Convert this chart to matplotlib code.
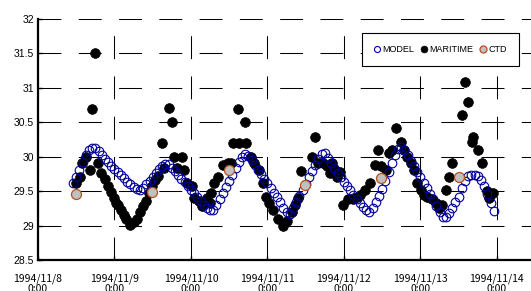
import numpy as np
import matplotlib
matplotlib.use("Agg")
import matplotlib.pyplot as plt

plt.rcParams['lines.scale_dashes'] = False

# ---------------- data (hours since 1994/11/8 0:00) ----------------
model_start_hour = 11
model_values = [
    29.62, 29.70, 29.80, 29.92, 30.03, 30.10, 30.13, 30.12, 30.08, 30.02,  # h11-20
    29.97, 29.92, 29.87, 29.82, 29.78, 29.74, 29.69, 29.64, 29.60, 29.56,  # h21-30
    29.53, 29.52, 29.55, 29.60, 29.65, 29.70, 29.76, 29.82, 29.87, 29.90,  # h31-40
    29.89, 29.84, 29.79, 29.74, 29.68, 29.63, 29.58, 29.52, 29.47, 29.41,  # h41-50
    29.35, 29.30, 29.25, 29.22, 29.23, 29.30, 29.38, 29.47, 29.56, 29.65,  # h51-60
    29.74, 29.83, 29.92, 30.00, 30.04, 30.01, 29.95, 29.88, 29.81, 29.75,  # h61-70
    29.68, 29.62, 29.55, 29.48, 29.41, 29.34, 29.26, 29.19, 29.17, 29.25,  # h71-80
    29.34, 29.43, 29.52, 29.61, 29.70, 29.79, 29.88, 29.97, 30.04, 30.05,  # h81-90
    29.98, 29.91, 29.84, 29.77, 29.70, 29.63, 29.57, 29.51, 29.45, 29.39,  # h91-100
    29.33, 29.27, 29.22, 29.20, 29.26, 29.34, 29.43, 29.53, 29.65, 29.78,  # h101-110
    29.91, 30.03, 30.11, 30.14, 30.10, 30.02, 29.94, 29.86, 29.78, 29.70,  # h111-120
    29.62, 29.54, 29.46, 29.38, 29.29, 29.20, 29.13, 29.12, 29.18, 29.26,  # h121-130
    29.34, 29.42, 29.55, 29.65, 29.72, 29.74, 29.74, 29.72, 29.66, 29.58,  # h131-140
    29.46, 29.33, 29.21,                                                   # h141-143
]

maritime_hours = [
    11.9, 13.2, 13.8, 15.1, 16.3, 16.9, 17.9, 18.8, 19.8, 21.0, 22.0, 22.9, 23.8,
    24.5, 25.1, 26.0, 27.0, 27.6, 28.9, 30.1, 31.1, 32.0, 33.0, 33.9, 34.8, 35.8,
    36.7, 37.6, 38.9, 39.5, 41.1, 42.0, 42.7, 43.6, 45.2, 45.8, 46.7, 48.3, 48.9,
    50.5, 51.5, 53.0, 54.0, 54.3, 55.2, 56.5, 58.0, 59.6, 60.5, 61.2, 62.7, 63.0,
    65.0, 65.3, 66.8, 67.8, 69.3, 70.6, 71.5, 72.5, 73.7, 75.3, 76.9, 78.1, 79.7,
    80.6, 81.6, 82.5, 86.0, 87.0, 87.8, 89.4, 90.7, 91.6, 92.2, 93.2, 93.8, 94.7,
    95.7, 97.3, 98.8, 100.1, 101.0, 102.6, 104.2, 105.7, 106.7, 107.6, 109.2,
    110.1, 111.1, 112.3, 113.9, 114.8, 115.8, 117.0, 118.0, 118.9, 120.2, 121.1,
    122.0, 123.6, 124.9, 125.8, 126.7, 128.0, 128.9, 129.9, 133.0, 134.0, 134.9,
    136.2, 136.5, 138.0, 139.3, 140.9, 141.6, 142.7,
]
maritime_values = [
    29.62, 29.71, 29.91, 30.00, 29.81, 30.70, 31.51, 29.91, 29.77, 29.67, 29.57, 29.49, 29.40,
    29.33, 29.30, 29.23, 29.16, 29.09, 29.01, 29.05, 29.09, 29.20, 29.28, 29.36, 29.48, 29.58,
    29.66, 29.72, 30.20, 29.84, 30.71, 30.51, 30.00, 29.84, 30.00, 29.81, 29.62, 29.57, 29.40,
    29.35, 29.28, 29.40, 29.33, 29.48, 29.62, 29.71, 29.88, 29.91, 29.91, 30.20, 30.70, 30.20,
    30.51, 30.20, 30.00, 29.91, 29.81, 29.62, 29.42, 29.33, 29.23, 29.09, 28.99, 29.06, 29.19,
    29.30, 29.40, 29.79, 30.00, 30.29, 29.91, 29.91, 29.86, 29.77, 29.91, 29.81, 29.71, 29.78,
    29.30, 29.38, 29.38, 29.42, 29.45, 29.52, 29.62, 29.88, 30.10, 29.86, 29.81,
    30.06, 30.10, 30.42, 30.22, 30.10, 30.00, 29.91, 29.81, 29.62, 29.52, 29.45,
    29.42, 29.38, 29.33, 29.26, 29.30, 29.52, 29.70, 29.91, 30.61, 31.09, 30.80,
    30.22, 30.29, 30.10, 29.91, 29.50, 29.40, 29.48,
]

ctd_hours = [11.9, 35.8, 59.9, 83.8, 107.6, 132.0]
ctd_values = [29.46, 29.49, 29.81, 29.59, 29.69, 29.70]

x_tick_hours = [0, 24, 48, 72, 96, 120, 144]
x_tick_labels = ["1994/11/8\n0:00", "1994/11/9\n0:00", "1994/11/10\n0:00",
                 "1994/11/11\n0:00", "1994/11/12\n0:00", "1994/11/13\n0:00",
                 "1994/11/14\n0:00"]
y_ticks = [28.5, 29, 29.5, 30, 30.5, 31, 31.5, 32]

# ---------------- figure ----------------
W, H = 531, 291
fig = plt.figure(figsize=(W / 100, H / 100), dpi=100)
ax = fig.add_axes([38 / W, 1 - 260 / H, 493 / W, 241 / H])

model_hours = model_start_hour + np.arange(len(model_values))

h_mar, = ax.plot(maritime_hours, maritime_values, linestyle='none', marker='o',
                 markersize=7.0, markerfacecolor='black', markeredgecolor='black',
                 markeredgewidth=0.5, label='MARITIME', zorder=3)
h_mod, = ax.plot(model_hours, model_values, linestyle='none', marker='o',
                 markersize=6.2, markerfacecolor='none', markeredgecolor='#000099',
                 markeredgewidth=0.8, label='MODEL', zorder=4)
h_ctd, = ax.plot(ctd_hours, ctd_values, linestyle='none', marker='o',
                 markersize=7.2, markerfacecolor='#c0c0c0', markeredgecolor='#b4501e',
                 markeredgewidth=0.9, label='CTD', zorder=5)

ax.set_xlim(0, 154.7)
ax.set_ylim(28.5, 32)
ax.set_yticks(y_ticks)
ax.set_yticklabels([f"{v:g}" for v in y_ticks], fontsize=7.5, family='Liberation Sans')
ax.set_xticks(x_tick_hours)
ax.set_xticklabels(x_tick_labels, fontsize=7.5, family=['Noto Sans CJK JP', 'DejaVu Sans'],
                   linespacing=1.1)

ax.grid(True, color='black', linewidth=0.75, linestyle=(0, (16.5, 12.5)))
ax.set_axisbelow(True)

for s in ('top', 'right'):
    ax.spines[s].set_visible(False)
for s in ('left', 'bottom'):
    ax.spines[s].set_linewidth(1.6)
    ax.spines[s].set_color('black')

ax.tick_params(axis='both', direction='in', length=3, width=1, color='black')
ax.tick_params(axis='y', pad=3)
ax.tick_params(axis='x', pad=9.5)

leg = ax.legend(handles=[h_mod, h_mar, h_ctd], loc='center',
                bbox_to_anchor=(0.657, 0.805, 0.319, 0.137), mode='expand', ncol=3,
                prop={'family': 'Liberation Sans', 'size': 6.5}, frameon=True,
                fancybox=False, shadow=False, borderpad=1.3, handlelength=0.7,
                handletextpad=0.3, columnspacing=1.0, markerscale=0.7,
                borderaxespad=0)
leg.get_frame().set_edgecolor('black')
leg.get_frame().set_linewidth(0.8)
leg.get_frame().set_facecolor('white')
leg.get_frame().set_alpha(1)

fig.savefig("out.png", dpi=100)
